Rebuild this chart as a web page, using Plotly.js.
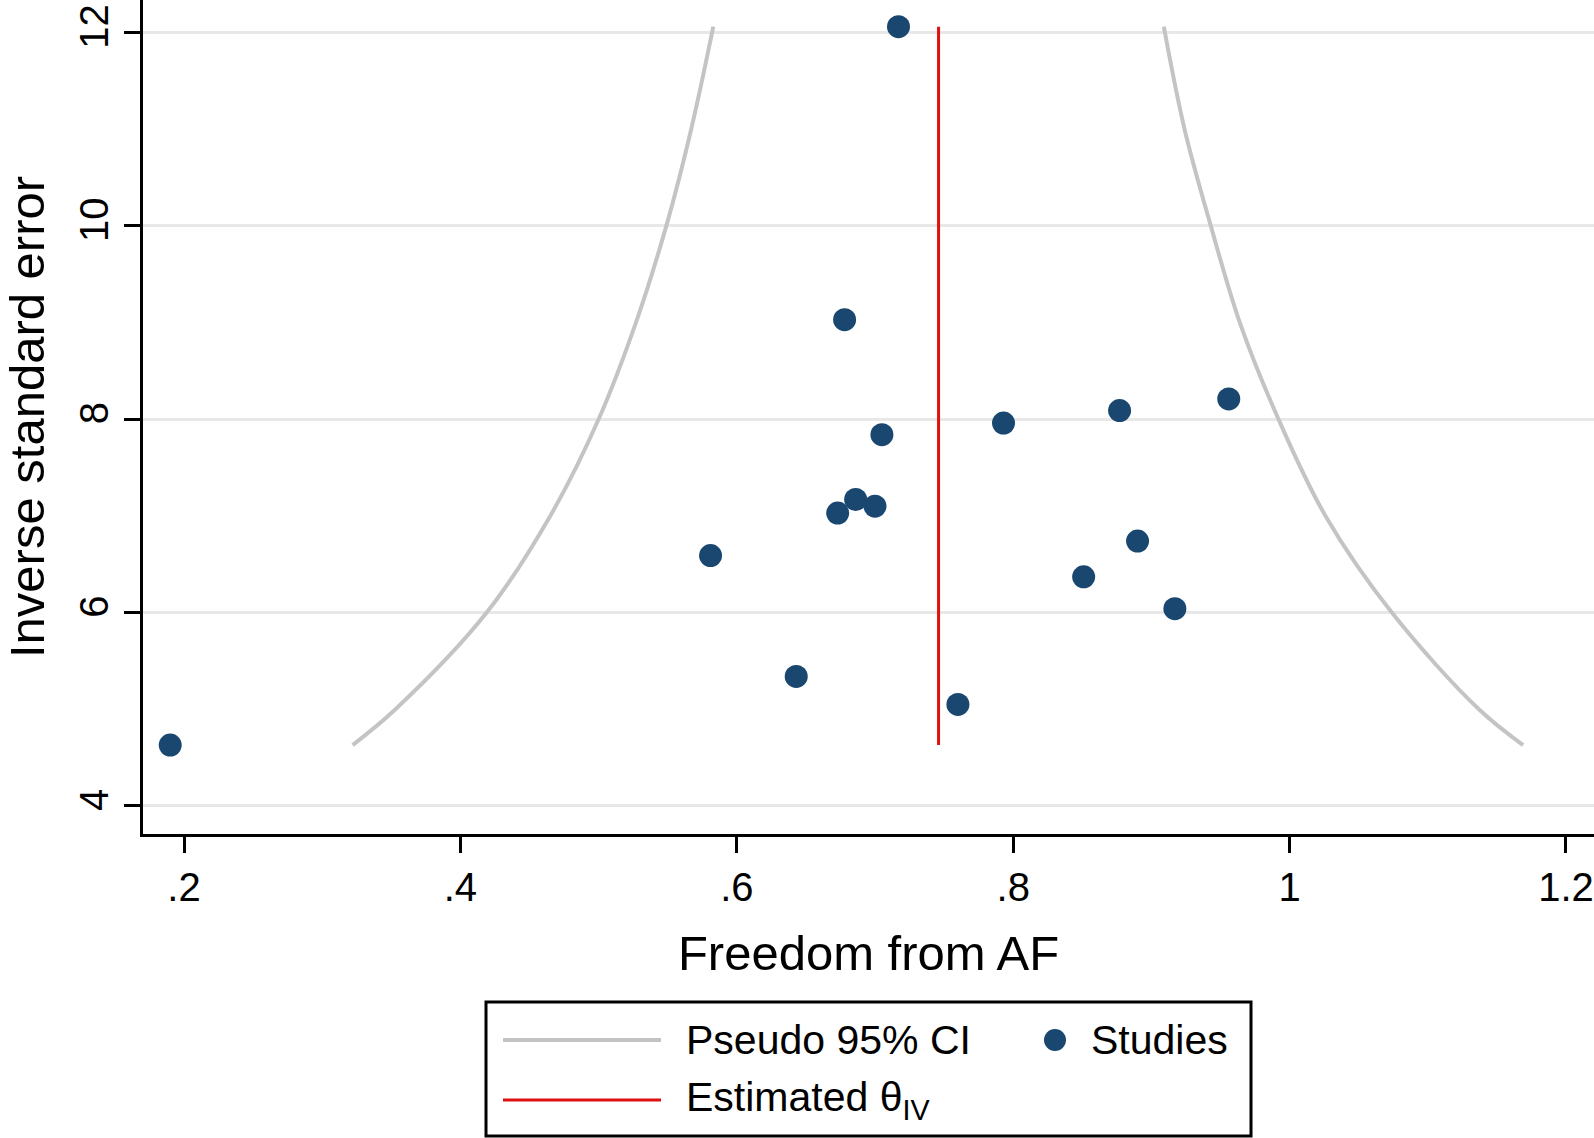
<!DOCTYPE html>
<html>
<head>
<meta charset="utf-8">
<script src="https://cdn.plot.ly/plotly-3.0.1.min.js"></script>
<style>html,body{margin:0;padding:0;background:#fff;}#chart{width:1594px;height:1138px;}</style>
</head>
<body>
<div id="chart"></div>
<script>
// ---- Data ----
const studyEffect = [0.717, 0.678, 0.956, 0.877, 0.793, 0.705, 0.686, 0.700, 0.673, 0.890, 0.581, 0.851, 0.917, 0.643, 0.760, 0.190];
const studyInvSE  = [12.06, 9.03, 8.21, 8.09, 7.96, 7.84, 7.17, 7.10, 7.03, 6.74, 6.59, 6.37, 6.04, 5.34, 5.05, 4.63];

const thetaIV = 0.746;
const thetaSpan = [4.63, 12.06];

const ciInvSE = [4.63, 5, 6, 7, 8, 9, 10, 11, 12.06];
const ciLower = [0.322, 0.353, 0.419, 0.465, 0.500, 0.527, 0.549, 0.567, 0.583];
const ciUpper = [1.169, 1.137, 1.074, 1.026, 0.992, 0.964, 0.943, 0.924, 0.909];

const xTickVals = [0.2, 0.4, 0.6, 0.8, 1.0, 1.2];
const xTickText = ['.2', '.4', '.6', '.8', '1', '1.2'];
const yTickVals = [4, 6, 8, 10, 12];
const yTickText = ['4', '6', '8', '10', '12'];

const legendLabels = ['Pseudo 95% CI', 'Studies', 'Estimated θ<sub>IV</sub>'];

// ---- Styles ----
const FONT = 'Liberation Sans, Arial, Helvetica, sans-serif';
const CI_COLOR = '#c4c4c4';
const THETA_COLOR = '#e01010';
const STUDY_COLOR = '#1a476f';
const W = 1594, H = 1138;
const M = {l: 143, r: 0, t: 0, b: 304};

const traces = [
  {x: ciLower, y: ciInvSE, mode: 'lines', line: {color: CI_COLOR, width: 4, shape: 'spline'}, showlegend: false, hoverinfo: 'skip'},
  {x: ciUpper, y: ciInvSE, mode: 'lines', line: {color: CI_COLOR, width: 4, shape: 'spline'}, showlegend: false, hoverinfo: 'skip'},
  {x: [thetaIV, thetaIV], y: thetaSpan, mode: 'lines', line: {color: THETA_COLOR, width: 3}, showlegend: false},
  {x: studyEffect, y: studyInvSE, mode: 'markers', marker: {color: STUDY_COLOR, size: 23, line: {width: 0}}, showlegend: false, cliponaxis: false}
];

// Legend drawn in paper coordinates (pixel helpers)
const pw = W - M.l - M.r, ph = H - M.t - M.b;
const px = v => (v - M.l) / pw;
const py = v => (H - M.b - v) / ph;

const shapes = [
  {type: 'rect', xref: 'paper', yref: 'paper', x0: px(486), x1: px(1251), y0: py(1136), y1: py(1002), line: {color: '#000', width: 3}, fillcolor: '#fff'},
  {type: 'line', xref: 'paper', yref: 'paper', x0: px(503), x1: px(661), y0: py(1040), y1: py(1040), line: {color: CI_COLOR, width: 4}},
  {type: 'line', xref: 'paper', yref: 'paper', x0: px(503), x1: px(661), y0: py(1100), y1: py(1100), line: {color: THETA_COLOR, width: 3}},
  {type: 'circle', xref: 'paper', yref: 'paper', xsizemode: 'pixel', ysizemode: 'pixel', xanchor: px(1055), yanchor: py(1040), x0: -11, x1: 11, y0: -11, y1: 11, fillcolor: STUDY_COLOR, line: {width: 0}}
];

const LFS = 41;
const annotations = [
  {xref: 'paper', yref: 'paper', x: px(684), y: py(1040), text: legendLabels[0], showarrow: false, xanchor: 'left', yanchor: 'middle', font: {family: FONT, size: LFS, color: '#000'}},
  {xref: 'paper', yref: 'paper', x: px(1089), y: py(1040), text: legendLabels[1], showarrow: false, xanchor: 'left', yanchor: 'middle', font: {family: FONT, size: LFS, color: '#000'}},
  {xref: 'paper', yref: 'paper', x: px(684), y: py(1100), text: legendLabels[2], showarrow: false, xanchor: 'left', yanchor: 'middle', font: {family: FONT, size: LFS, color: '#000'}}
];

const layout = {
  width: W, height: H,
  margin: M,
  paper_bgcolor: '#fff', plot_bgcolor: '#fff',
  showlegend: false,
  font: {family: FONT, color: '#000'},
  xaxis: {
    range: [0.1703, 1.2203], autorange: false,
    tickvals: xTickVals, ticktext: xTickText,
    ticks: 'outside', ticklen: 16, tickwidth: 3, tickcolor: '#000',
    tickfont: {family: FONT, size: 40, color: '#000'},
    showline: true, linecolor: '#000', linewidth: 3, mirror: false,
    showgrid: false, zeroline: false, automargin: false,
    title: {text: 'Freedom from AF', font: {family: FONT, size: 49, color: '#000'}, standoff: 28}
  },
  yaxis: {
    range: [3.71, 12.336], autorange: false,
    tickvals: yTickVals, ticktext: yTickText,
    tickangle: -90,
    ticks: 'outside', ticklen: 16, tickwidth: 3, tickcolor: '#000',
    tickfont: {family: FONT, size: 40, color: '#000'},
    showline: true, linecolor: '#000', linewidth: 3, mirror: false,
    showgrid: true, gridcolor: '#e8e8e8', gridwidth: 3, zeroline: false, automargin: false,
    title: {text: 'Inverse standard error', font: {family: FONT, size: 49, color: '#000'}, standoff: 24}
  },
  shapes: shapes,
  annotations: annotations
};

Plotly.newPlot('chart', traces, layout, {displayModeBar: false, staticPlot: true});
</script>
</body>
</html>
